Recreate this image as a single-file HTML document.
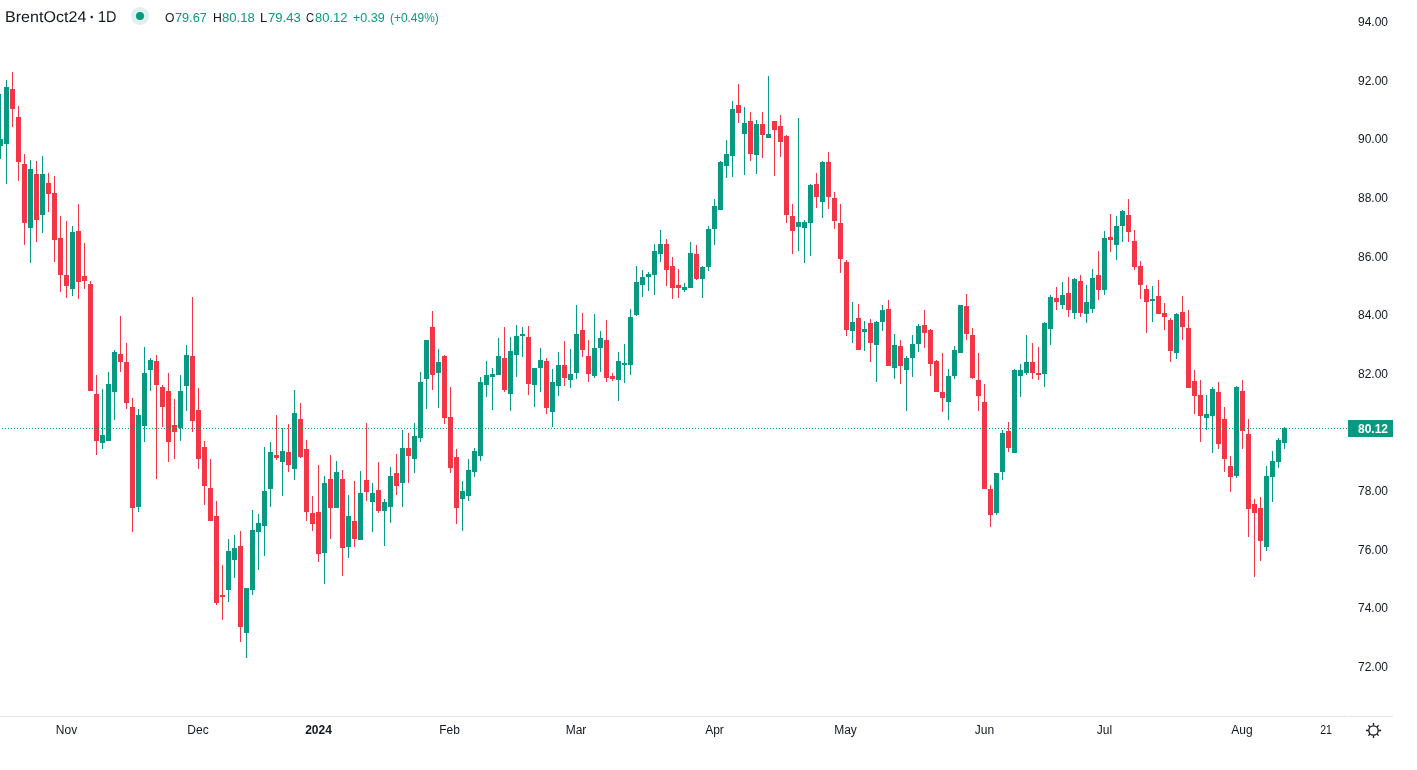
<!DOCTYPE html>
<html lang="en"><head><meta charset="utf-8"><title>BrentOct24 1D</title>
<style>
html,body{margin:0;padding:0;background:#fff;}
body{width:1417px;height:770px;position:relative;overflow:hidden;font-family:"Liberation Sans",sans-serif;color:#131722;}
#chart{position:absolute;left:0;top:0;width:1417px;height:770px;}
.pl{position:absolute;left:1358px;width:30px;height:16px;line-height:16px;font-size:12px;text-align:left;white-space:nowrap;}
.tl{position:absolute;top:722px;width:60px;height:16px;line-height:16px;font-size:12px;text-align:center;white-space:nowrap;}
.tl.b{font-weight:bold;}
.hp{position:absolute;display:block;height:20px;line-height:20px;white-space:nowrap;transform-origin:0 0;}
.g{color:#089981;}
#dot{position:absolute;left:131px;top:7px;width:18px;height:18px;border-radius:50%;background:#ddf2ee;}
#dot i{position:absolute;left:5px;top:5px;width:8px;height:8px;border-radius:50%;background:#089981;}
#last{position:absolute;left:1348px;top:420px;width:45px;height:17px;background:#089981;color:#fff;font-size:12px;font-weight:bold;line-height:17px;}
#last span{position:absolute;left:10px;top:1px;}
#pline{position:absolute;left:0;top:428px;width:1348px;height:1px;background-image:linear-gradient(to right,#089981 0,#089981 1px,transparent 1px,transparent 3px);background-size:3px 1px;background-position:2px 0;background-repeat:repeat-x;}
#axis{position:absolute;left:0;top:716px;width:1348px;height:1px;background:#e0e3eb;}
#axis2{position:absolute;left:1349px;top:716px;width:44px;height:1px;background:#e0e3eb;}
#gear{position:absolute;left:1364px;top:721px;width:19px;height:19px;}
</style></head><body>
<svg id="chart" width="1417" height="770" viewBox="0 0 1417 770" shape-rendering="crispEdges">
<rect x="0" y="94" width="1" height="65" fill="#089981"/>
<rect x="0" y="139" width="3" height="7" fill="#089981"/>
<rect x="6" y="80" width="1" height="104" fill="#089981"/>
<rect x="4" y="87" width="5" height="57" fill="#089981"/>
<rect x="12" y="72" width="1" height="55" fill="#f23645"/>
<rect x="10" y="89" width="5" height="20" fill="#f23645"/>
<rect x="18" y="106" width="1" height="75" fill="#f23645"/>
<rect x="16" y="117" width="5" height="45" fill="#f23645"/>
<rect x="24" y="154" width="1" height="91" fill="#f23645"/>
<rect x="22" y="164" width="5" height="59" fill="#f23645"/>
<rect x="30" y="160" width="1" height="103" fill="#089981"/>
<rect x="28" y="169" width="5" height="59" fill="#089981"/>
<rect x="36" y="161" width="1" height="81" fill="#f23645"/>
<rect x="34" y="174" width="5" height="46" fill="#f23645"/>
<rect x="42" y="156" width="1" height="77" fill="#089981"/>
<rect x="40" y="174" width="5" height="41" fill="#089981"/>
<rect x="48" y="173" width="1" height="39" fill="#f23645"/>
<rect x="46" y="183" width="5" height="11" fill="#f23645"/>
<rect x="54" y="176" width="1" height="86" fill="#f23645"/>
<rect x="52" y="193" width="5" height="47" fill="#f23645"/>
<rect x="60" y="216" width="1" height="76" fill="#f23645"/>
<rect x="58" y="238" width="5" height="37" fill="#f23645"/>
<rect x="66" y="221" width="1" height="77" fill="#f23645"/>
<rect x="64" y="275" width="5" height="11" fill="#f23645"/>
<rect x="72" y="226" width="1" height="70" fill="#089981"/>
<rect x="70" y="232" width="5" height="57" fill="#089981"/>
<rect x="78" y="204" width="1" height="95" fill="#f23645"/>
<rect x="76" y="231" width="5" height="51" fill="#f23645"/>
<rect x="84" y="243" width="1" height="46" fill="#f23645"/>
<rect x="82" y="276" width="5" height="5" fill="#f23645"/>
<rect x="90" y="281" width="1" height="110" fill="#f23645"/>
<rect x="88" y="284" width="5" height="107" fill="#f23645"/>
<rect x="96" y="375" width="1" height="80" fill="#f23645"/>
<rect x="94" y="394" width="5" height="47" fill="#f23645"/>
<rect x="102" y="389" width="1" height="60" fill="#089981"/>
<rect x="100" y="435" width="5" height="8" fill="#089981"/>
<rect x="108" y="372" width="1" height="69" fill="#089981"/>
<rect x="106" y="384" width="5" height="57" fill="#089981"/>
<rect x="114" y="350" width="1" height="70" fill="#089981"/>
<rect x="112" y="352" width="5" height="40" fill="#089981"/>
<rect x="120" y="316" width="1" height="56" fill="#f23645"/>
<rect x="118" y="354" width="5" height="8" fill="#f23645"/>
<rect x="126" y="343" width="1" height="66" fill="#f23645"/>
<rect x="124" y="362" width="5" height="41" fill="#f23645"/>
<rect x="132" y="398" width="1" height="134" fill="#f23645"/>
<rect x="130" y="407" width="5" height="101" fill="#f23645"/>
<rect x="138" y="409" width="1" height="103" fill="#089981"/>
<rect x="136" y="415" width="5" height="92" fill="#089981"/>
<rect x="144" y="347" width="1" height="95" fill="#089981"/>
<rect x="142" y="373" width="5" height="53" fill="#089981"/>
<rect x="150" y="358" width="1" height="33" fill="#089981"/>
<rect x="148" y="360" width="5" height="10" fill="#089981"/>
<rect x="156" y="355" width="1" height="124" fill="#f23645"/>
<rect x="154" y="361" width="5" height="24" fill="#f23645"/>
<rect x="162" y="385" width="1" height="42" fill="#f23645"/>
<rect x="160" y="387" width="5" height="20" fill="#f23645"/>
<rect x="168" y="373" width="1" height="89" fill="#f23645"/>
<rect x="166" y="391" width="5" height="51" fill="#f23645"/>
<rect x="174" y="399" width="1" height="60" fill="#f23645"/>
<rect x="172" y="425" width="5" height="7" fill="#f23645"/>
<rect x="180" y="375" width="1" height="66" fill="#089981"/>
<rect x="178" y="391" width="5" height="37" fill="#089981"/>
<rect x="186" y="345" width="1" height="66" fill="#089981"/>
<rect x="184" y="355" width="5" height="31" fill="#089981"/>
<rect x="192" y="297" width="1" height="135" fill="#f23645"/>
<rect x="190" y="356" width="5" height="65" fill="#f23645"/>
<rect x="198" y="388" width="1" height="81" fill="#f23645"/>
<rect x="196" y="410" width="5" height="49" fill="#f23645"/>
<rect x="204" y="441" width="1" height="64" fill="#f23645"/>
<rect x="202" y="447" width="5" height="39" fill="#f23645"/>
<rect x="210" y="459" width="1" height="62" fill="#f23645"/>
<rect x="208" y="488" width="5" height="33" fill="#f23645"/>
<rect x="216" y="501" width="1" height="104" fill="#f23645"/>
<rect x="214" y="516" width="5" height="87" fill="#f23645"/>
<rect x="222" y="565" width="1" height="55" fill="#f23645"/>
<rect x="220" y="595" width="5" height="2" fill="#f23645"/>
<rect x="228" y="539" width="1" height="63" fill="#089981"/>
<rect x="226" y="551" width="5" height="39" fill="#089981"/>
<rect x="234" y="535" width="1" height="43" fill="#089981"/>
<rect x="232" y="548" width="5" height="12" fill="#089981"/>
<rect x="240" y="531" width="1" height="111" fill="#f23645"/>
<rect x="238" y="546" width="5" height="81" fill="#f23645"/>
<rect x="246" y="588" width="1" height="70" fill="#089981"/>
<rect x="244" y="588" width="5" height="45" fill="#089981"/>
<rect x="252" y="510" width="1" height="85" fill="#089981"/>
<rect x="250" y="530" width="5" height="60" fill="#089981"/>
<rect x="258" y="514" width="1" height="56" fill="#089981"/>
<rect x="256" y="523" width="5" height="9" fill="#089981"/>
<rect x="264" y="447" width="1" height="109" fill="#089981"/>
<rect x="262" y="491" width="5" height="35" fill="#089981"/>
<rect x="270" y="442" width="1" height="65" fill="#089981"/>
<rect x="268" y="452" width="5" height="37" fill="#089981"/>
<rect x="276" y="415" width="1" height="45" fill="#f23645"/>
<rect x="274" y="455" width="5" height="3" fill="#f23645"/>
<rect x="282" y="428" width="1" height="68" fill="#089981"/>
<rect x="280" y="451" width="5" height="11" fill="#089981"/>
<rect x="288" y="424" width="1" height="48" fill="#f23645"/>
<rect x="286" y="452" width="5" height="13" fill="#f23645"/>
<rect x="294" y="390" width="1" height="90" fill="#089981"/>
<rect x="292" y="413" width="5" height="56" fill="#089981"/>
<rect x="300" y="403" width="1" height="55" fill="#f23645"/>
<rect x="298" y="419" width="5" height="38" fill="#f23645"/>
<rect x="306" y="440" width="1" height="81" fill="#f23645"/>
<rect x="304" y="449" width="5" height="63" fill="#f23645"/>
<rect x="312" y="496" width="1" height="35" fill="#f23645"/>
<rect x="310" y="513" width="5" height="11" fill="#f23645"/>
<rect x="318" y="465" width="1" height="97" fill="#f23645"/>
<rect x="316" y="512" width="5" height="42" fill="#f23645"/>
<rect x="324" y="476" width="1" height="108" fill="#089981"/>
<rect x="322" y="483" width="5" height="70" fill="#089981"/>
<rect x="330" y="455" width="1" height="84" fill="#f23645"/>
<rect x="328" y="479" width="5" height="29" fill="#f23645"/>
<rect x="336" y="461" width="1" height="47" fill="#089981"/>
<rect x="334" y="472" width="5" height="36" fill="#089981"/>
<rect x="342" y="470" width="1" height="106" fill="#f23645"/>
<rect x="340" y="479" width="5" height="69" fill="#f23645"/>
<rect x="348" y="495" width="1" height="63" fill="#089981"/>
<rect x="346" y="516" width="5" height="31" fill="#089981"/>
<rect x="354" y="481" width="1" height="66" fill="#f23645"/>
<rect x="352" y="521" width="5" height="18" fill="#f23645"/>
<rect x="360" y="471" width="1" height="69" fill="#089981"/>
<rect x="358" y="493" width="5" height="47" fill="#089981"/>
<rect x="366" y="423" width="1" height="78" fill="#f23645"/>
<rect x="364" y="480" width="5" height="12" fill="#f23645"/>
<rect x="372" y="483" width="1" height="49" fill="#089981"/>
<rect x="370" y="493" width="5" height="9" fill="#089981"/>
<rect x="378" y="462" width="1" height="51" fill="#f23645"/>
<rect x="376" y="490" width="5" height="21" fill="#f23645"/>
<rect x="384" y="499" width="1" height="47" fill="#089981"/>
<rect x="382" y="502" width="5" height="9" fill="#089981"/>
<rect x="390" y="467" width="1" height="56" fill="#089981"/>
<rect x="388" y="476" width="5" height="31" fill="#089981"/>
<rect x="396" y="454" width="1" height="41" fill="#f23645"/>
<rect x="394" y="473" width="5" height="13" fill="#f23645"/>
<rect x="402" y="430" width="1" height="77" fill="#089981"/>
<rect x="400" y="448" width="5" height="35" fill="#089981"/>
<rect x="408" y="433" width="1" height="50" fill="#f23645"/>
<rect x="406" y="448" width="5" height="8" fill="#f23645"/>
<rect x="414" y="423" width="1" height="50" fill="#089981"/>
<rect x="412" y="436" width="5" height="23" fill="#089981"/>
<rect x="420" y="372" width="1" height="70" fill="#089981"/>
<rect x="418" y="382" width="5" height="56" fill="#089981"/>
<rect x="426" y="340" width="1" height="69" fill="#089981"/>
<rect x="424" y="340" width="5" height="39" fill="#089981"/>
<rect x="432" y="311" width="1" height="79" fill="#f23645"/>
<rect x="430" y="327" width="5" height="48" fill="#f23645"/>
<rect x="438" y="349" width="1" height="59" fill="#089981"/>
<rect x="436" y="362" width="5" height="11" fill="#089981"/>
<rect x="444" y="355" width="1" height="69" fill="#f23645"/>
<rect x="442" y="356" width="5" height="62" fill="#f23645"/>
<rect x="450" y="387" width="1" height="86" fill="#f23645"/>
<rect x="448" y="417" width="5" height="51" fill="#f23645"/>
<rect x="456" y="449" width="1" height="75" fill="#f23645"/>
<rect x="454" y="457" width="5" height="51" fill="#f23645"/>
<rect x="462" y="481" width="1" height="50" fill="#089981"/>
<rect x="460" y="491" width="5" height="8" fill="#089981"/>
<rect x="468" y="459" width="1" height="42" fill="#089981"/>
<rect x="466" y="470" width="5" height="26" fill="#089981"/>
<rect x="474" y="448" width="1" height="29" fill="#089981"/>
<rect x="472" y="451" width="5" height="21" fill="#089981"/>
<rect x="480" y="377" width="1" height="84" fill="#089981"/>
<rect x="478" y="382" width="5" height="74" fill="#089981"/>
<rect x="486" y="361" width="1" height="36" fill="#089981"/>
<rect x="484" y="375" width="5" height="10" fill="#089981"/>
<rect x="492" y="368" width="1" height="42" fill="#089981"/>
<rect x="490" y="374" width="5" height="3" fill="#089981"/>
<rect x="498" y="338" width="1" height="37" fill="#089981"/>
<rect x="496" y="356" width="5" height="19" fill="#089981"/>
<rect x="504" y="327" width="1" height="65" fill="#f23645"/>
<rect x="502" y="358" width="5" height="32" fill="#f23645"/>
<rect x="510" y="337" width="1" height="74" fill="#089981"/>
<rect x="508" y="351" width="5" height="43" fill="#089981"/>
<rect x="516" y="325" width="1" height="52" fill="#089981"/>
<rect x="514" y="336" width="5" height="19" fill="#089981"/>
<rect x="522" y="327" width="1" height="30" fill="#089981"/>
<rect x="520" y="334" width="5" height="2" fill="#089981"/>
<rect x="528" y="326" width="1" height="69" fill="#f23645"/>
<rect x="526" y="337" width="5" height="47" fill="#f23645"/>
<rect x="534" y="368" width="1" height="39" fill="#089981"/>
<rect x="532" y="368" width="5" height="17" fill="#089981"/>
<rect x="540" y="348" width="1" height="44" fill="#089981"/>
<rect x="538" y="360" width="5" height="8" fill="#089981"/>
<rect x="546" y="358" width="1" height="56" fill="#f23645"/>
<rect x="544" y="361" width="5" height="47" fill="#f23645"/>
<rect x="552" y="369" width="1" height="58" fill="#089981"/>
<rect x="550" y="382" width="5" height="30" fill="#089981"/>
<rect x="558" y="352" width="1" height="44" fill="#089981"/>
<rect x="556" y="365" width="5" height="21" fill="#089981"/>
<rect x="564" y="341" width="1" height="45" fill="#f23645"/>
<rect x="562" y="365" width="5" height="13" fill="#f23645"/>
<rect x="570" y="349" width="1" height="39" fill="#089981"/>
<rect x="568" y="374" width="5" height="6" fill="#089981"/>
<rect x="576" y="305" width="1" height="74" fill="#089981"/>
<rect x="574" y="334" width="5" height="39" fill="#089981"/>
<rect x="582" y="313" width="1" height="44" fill="#f23645"/>
<rect x="580" y="330" width="5" height="20" fill="#f23645"/>
<rect x="588" y="340" width="1" height="42" fill="#f23645"/>
<rect x="586" y="356" width="5" height="18" fill="#f23645"/>
<rect x="594" y="314" width="1" height="64" fill="#089981"/>
<rect x="592" y="348" width="5" height="28" fill="#089981"/>
<rect x="600" y="331" width="1" height="41" fill="#089981"/>
<rect x="598" y="338" width="5" height="10" fill="#089981"/>
<rect x="606" y="320" width="1" height="62" fill="#f23645"/>
<rect x="604" y="340" width="5" height="38" fill="#f23645"/>
<rect x="612" y="373" width="1" height="8" fill="#f23645"/>
<rect x="610" y="376" width="5" height="3" fill="#f23645"/>
<rect x="618" y="352" width="1" height="49" fill="#089981"/>
<rect x="616" y="361" width="5" height="19" fill="#089981"/>
<rect x="624" y="344" width="1" height="39" fill="#089981"/>
<rect x="622" y="363" width="5" height="2" fill="#089981"/>
<rect x="630" y="309" width="1" height="66" fill="#089981"/>
<rect x="628" y="317" width="5" height="48" fill="#089981"/>
<rect x="636" y="266" width="1" height="50" fill="#089981"/>
<rect x="634" y="282" width="5" height="33" fill="#089981"/>
<rect x="642" y="270" width="1" height="27" fill="#089981"/>
<rect x="640" y="277" width="5" height="8" fill="#089981"/>
<rect x="648" y="272" width="1" height="19" fill="#089981"/>
<rect x="646" y="274" width="5" height="3" fill="#089981"/>
<rect x="654" y="244" width="1" height="51" fill="#089981"/>
<rect x="652" y="251" width="5" height="24" fill="#089981"/>
<rect x="660" y="230" width="1" height="32" fill="#089981"/>
<rect x="658" y="244" width="5" height="10" fill="#089981"/>
<rect x="666" y="239" width="1" height="47" fill="#f23645"/>
<rect x="664" y="244" width="5" height="26" fill="#f23645"/>
<rect x="672" y="257" width="1" height="42" fill="#f23645"/>
<rect x="670" y="266" width="5" height="22" fill="#f23645"/>
<rect x="678" y="269" width="1" height="29" fill="#f23645"/>
<rect x="676" y="285" width="5" height="3" fill="#f23645"/>
<rect x="684" y="283" width="1" height="9" fill="#089981"/>
<rect x="682" y="287" width="5" height="3" fill="#089981"/>
<rect x="690" y="242" width="1" height="46" fill="#089981"/>
<rect x="688" y="253" width="5" height="35" fill="#089981"/>
<rect x="696" y="245" width="1" height="35" fill="#f23645"/>
<rect x="694" y="254" width="5" height="25" fill="#f23645"/>
<rect x="702" y="266" width="1" height="32" fill="#089981"/>
<rect x="700" y="267" width="5" height="12" fill="#089981"/>
<rect x="708" y="226" width="1" height="45" fill="#089981"/>
<rect x="706" y="229" width="5" height="38" fill="#089981"/>
<rect x="714" y="199" width="1" height="46" fill="#089981"/>
<rect x="712" y="206" width="5" height="23" fill="#089981"/>
<rect x="720" y="161" width="1" height="49" fill="#089981"/>
<rect x="718" y="162" width="5" height="48" fill="#089981"/>
<rect x="726" y="140" width="1" height="38" fill="#089981"/>
<rect x="724" y="154" width="5" height="12" fill="#089981"/>
<rect x="732" y="101" width="1" height="76" fill="#089981"/>
<rect x="730" y="109" width="5" height="47" fill="#089981"/>
<rect x="738" y="84" width="1" height="39" fill="#f23645"/>
<rect x="736" y="105" width="5" height="8" fill="#f23645"/>
<rect x="744" y="107" width="1" height="68" fill="#089981"/>
<rect x="742" y="123" width="5" height="11" fill="#089981"/>
<rect x="750" y="112" width="1" height="49" fill="#f23645"/>
<rect x="748" y="121" width="5" height="33" fill="#f23645"/>
<rect x="756" y="120" width="1" height="54" fill="#089981"/>
<rect x="754" y="124" width="5" height="31" fill="#089981"/>
<rect x="762" y="112" width="1" height="46" fill="#f23645"/>
<rect x="760" y="124" width="5" height="11" fill="#f23645"/>
<rect x="768" y="76" width="1" height="62" fill="#089981"/>
<rect x="766" y="134" width="5" height="4" fill="#089981"/>
<rect x="774" y="121" width="1" height="55" fill="#f23645"/>
<rect x="772" y="121" width="5" height="9" fill="#f23645"/>
<rect x="780" y="115" width="1" height="42" fill="#f23645"/>
<rect x="778" y="126" width="5" height="16" fill="#f23645"/>
<rect x="786" y="135" width="1" height="88" fill="#f23645"/>
<rect x="784" y="136" width="5" height="79" fill="#f23645"/>
<rect x="792" y="204" width="1" height="50" fill="#f23645"/>
<rect x="790" y="216" width="5" height="15" fill="#f23645"/>
<rect x="798" y="118" width="1" height="133" fill="#089981"/>
<rect x="796" y="222" width="5" height="5" fill="#089981"/>
<rect x="804" y="220" width="1" height="43" fill="#089981"/>
<rect x="802" y="222" width="5" height="6" fill="#089981"/>
<rect x="810" y="184" width="1" height="72" fill="#089981"/>
<rect x="808" y="185" width="5" height="38" fill="#089981"/>
<rect x="816" y="173" width="1" height="35" fill="#f23645"/>
<rect x="814" y="184" width="5" height="13" fill="#f23645"/>
<rect x="822" y="161" width="1" height="57" fill="#089981"/>
<rect x="820" y="162" width="5" height="40" fill="#089981"/>
<rect x="828" y="152" width="1" height="57" fill="#f23645"/>
<rect x="826" y="162" width="5" height="35" fill="#f23645"/>
<rect x="834" y="192" width="1" height="37" fill="#f23645"/>
<rect x="832" y="198" width="5" height="23" fill="#f23645"/>
<rect x="840" y="204" width="1" height="69" fill="#f23645"/>
<rect x="838" y="223" width="5" height="36" fill="#f23645"/>
<rect x="846" y="260" width="1" height="76" fill="#f23645"/>
<rect x="844" y="262" width="5" height="68" fill="#f23645"/>
<rect x="852" y="302" width="1" height="41" fill="#089981"/>
<rect x="850" y="322" width="5" height="9" fill="#089981"/>
<rect x="858" y="304" width="1" height="46" fill="#f23645"/>
<rect x="856" y="318" width="5" height="32" fill="#f23645"/>
<rect x="864" y="321" width="1" height="30" fill="#089981"/>
<rect x="862" y="329" width="5" height="3" fill="#089981"/>
<rect x="870" y="319" width="1" height="43" fill="#f23645"/>
<rect x="868" y="323" width="5" height="20" fill="#f23645"/>
<rect x="876" y="321" width="1" height="61" fill="#089981"/>
<rect x="874" y="322" width="5" height="23" fill="#089981"/>
<rect x="882" y="305" width="1" height="26" fill="#089981"/>
<rect x="880" y="310" width="5" height="12" fill="#089981"/>
<rect x="888" y="300" width="1" height="66" fill="#f23645"/>
<rect x="886" y="309" width="5" height="57" fill="#f23645"/>
<rect x="894" y="334" width="1" height="45" fill="#089981"/>
<rect x="892" y="345" width="5" height="23" fill="#089981"/>
<rect x="900" y="340" width="1" height="44" fill="#f23645"/>
<rect x="898" y="346" width="5" height="20" fill="#f23645"/>
<rect x="906" y="356" width="1" height="55" fill="#089981"/>
<rect x="904" y="358" width="5" height="12" fill="#089981"/>
<rect x="912" y="335" width="1" height="42" fill="#089981"/>
<rect x="910" y="344" width="5" height="14" fill="#089981"/>
<rect x="918" y="324" width="1" height="28" fill="#089981"/>
<rect x="916" y="326" width="5" height="18" fill="#089981"/>
<rect x="924" y="310" width="1" height="38" fill="#f23645"/>
<rect x="922" y="325" width="5" height="8" fill="#f23645"/>
<rect x="930" y="329" width="1" height="47" fill="#f23645"/>
<rect x="928" y="330" width="5" height="34" fill="#f23645"/>
<rect x="936" y="360" width="1" height="32" fill="#f23645"/>
<rect x="934" y="361" width="5" height="31" fill="#f23645"/>
<rect x="942" y="353" width="1" height="59" fill="#f23645"/>
<rect x="940" y="392" width="5" height="6" fill="#f23645"/>
<rect x="948" y="369" width="1" height="51" fill="#089981"/>
<rect x="946" y="376" width="5" height="26" fill="#089981"/>
<rect x="954" y="346" width="1" height="33" fill="#089981"/>
<rect x="952" y="350" width="5" height="26" fill="#089981"/>
<rect x="960" y="305" width="1" height="48" fill="#089981"/>
<rect x="958" y="305" width="5" height="48" fill="#089981"/>
<rect x="966" y="294" width="1" height="46" fill="#f23645"/>
<rect x="964" y="306" width="5" height="28" fill="#f23645"/>
<rect x="972" y="328" width="1" height="51" fill="#f23645"/>
<rect x="970" y="335" width="5" height="43" fill="#f23645"/>
<rect x="978" y="353" width="1" height="58" fill="#f23645"/>
<rect x="976" y="380" width="5" height="16" fill="#f23645"/>
<rect x="984" y="384" width="1" height="105" fill="#f23645"/>
<rect x="982" y="402" width="5" height="87" fill="#f23645"/>
<rect x="990" y="485" width="1" height="42" fill="#f23645"/>
<rect x="988" y="489" width="5" height="26" fill="#f23645"/>
<rect x="996" y="473" width="1" height="42" fill="#089981"/>
<rect x="994" y="473" width="5" height="40" fill="#089981"/>
<rect x="1002" y="430" width="1" height="50" fill="#089981"/>
<rect x="1000" y="433" width="5" height="39" fill="#089981"/>
<rect x="1008" y="422" width="1" height="30" fill="#f23645"/>
<rect x="1006" y="431" width="5" height="17" fill="#f23645"/>
<rect x="1014" y="369" width="1" height="84" fill="#089981"/>
<rect x="1012" y="370" width="5" height="83" fill="#089981"/>
<rect x="1020" y="364" width="1" height="33" fill="#089981"/>
<rect x="1018" y="370" width="5" height="6" fill="#089981"/>
<rect x="1026" y="335" width="1" height="40" fill="#089981"/>
<rect x="1024" y="362" width="5" height="11" fill="#089981"/>
<rect x="1032" y="343" width="1" height="36" fill="#f23645"/>
<rect x="1030" y="362" width="5" height="11" fill="#f23645"/>
<rect x="1038" y="347" width="1" height="33" fill="#f23645"/>
<rect x="1036" y="373" width="5" height="2" fill="#f23645"/>
<rect x="1044" y="322" width="1" height="65" fill="#089981"/>
<rect x="1042" y="323" width="5" height="51" fill="#089981"/>
<rect x="1050" y="295" width="1" height="50" fill="#089981"/>
<rect x="1048" y="297" width="5" height="32" fill="#089981"/>
<rect x="1056" y="287" width="1" height="23" fill="#f23645"/>
<rect x="1054" y="298" width="5" height="4" fill="#f23645"/>
<rect x="1062" y="282" width="1" height="27" fill="#089981"/>
<rect x="1060" y="295" width="5" height="10" fill="#089981"/>
<rect x="1068" y="277" width="1" height="40" fill="#f23645"/>
<rect x="1066" y="293" width="5" height="17" fill="#f23645"/>
<rect x="1074" y="278" width="1" height="41" fill="#089981"/>
<rect x="1072" y="279" width="5" height="34" fill="#089981"/>
<rect x="1080" y="275" width="1" height="42" fill="#f23645"/>
<rect x="1078" y="281" width="5" height="32" fill="#f23645"/>
<rect x="1086" y="285" width="1" height="38" fill="#089981"/>
<rect x="1084" y="302" width="5" height="12" fill="#089981"/>
<rect x="1092" y="269" width="1" height="44" fill="#089981"/>
<rect x="1090" y="278" width="5" height="31" fill="#089981"/>
<rect x="1098" y="251" width="1" height="49" fill="#f23645"/>
<rect x="1096" y="275" width="5" height="15" fill="#f23645"/>
<rect x="1104" y="231" width="1" height="64" fill="#089981"/>
<rect x="1102" y="238" width="5" height="52" fill="#089981"/>
<rect x="1110" y="214" width="1" height="38" fill="#f23645"/>
<rect x="1108" y="237" width="5" height="3" fill="#f23645"/>
<rect x="1116" y="216" width="1" height="44" fill="#089981"/>
<rect x="1114" y="226" width="5" height="19" fill="#089981"/>
<rect x="1122" y="210" width="1" height="32" fill="#089981"/>
<rect x="1120" y="211" width="5" height="15" fill="#089981"/>
<rect x="1128" y="199" width="1" height="43" fill="#f23645"/>
<rect x="1126" y="215" width="5" height="17" fill="#f23645"/>
<rect x="1134" y="230" width="1" height="40" fill="#f23645"/>
<rect x="1132" y="241" width="5" height="26" fill="#f23645"/>
<rect x="1140" y="261" width="1" height="38" fill="#f23645"/>
<rect x="1138" y="266" width="5" height="19" fill="#f23645"/>
<rect x="1146" y="285" width="1" height="48" fill="#f23645"/>
<rect x="1144" y="289" width="5" height="13" fill="#f23645"/>
<rect x="1152" y="286" width="1" height="36" fill="#089981"/>
<rect x="1150" y="299" width="5" height="2" fill="#089981"/>
<rect x="1158" y="280" width="1" height="34" fill="#f23645"/>
<rect x="1156" y="296" width="5" height="18" fill="#f23645"/>
<rect x="1164" y="303" width="1" height="27" fill="#f23645"/>
<rect x="1162" y="313" width="5" height="4" fill="#f23645"/>
<rect x="1170" y="318" width="1" height="44" fill="#f23645"/>
<rect x="1168" y="320" width="5" height="31" fill="#f23645"/>
<rect x="1176" y="313" width="1" height="46" fill="#089981"/>
<rect x="1174" y="314" width="5" height="39" fill="#089981"/>
<rect x="1182" y="296" width="1" height="44" fill="#f23645"/>
<rect x="1180" y="312" width="5" height="15" fill="#f23645"/>
<rect x="1188" y="310" width="1" height="78" fill="#f23645"/>
<rect x="1186" y="328" width="5" height="60" fill="#f23645"/>
<rect x="1194" y="370" width="1" height="44" fill="#f23645"/>
<rect x="1192" y="381" width="5" height="15" fill="#f23645"/>
<rect x="1200" y="380" width="1" height="62" fill="#f23645"/>
<rect x="1198" y="395" width="5" height="21" fill="#f23645"/>
<rect x="1206" y="395" width="1" height="35" fill="#089981"/>
<rect x="1204" y="414" width="5" height="4" fill="#089981"/>
<rect x="1212" y="387" width="1" height="66" fill="#089981"/>
<rect x="1210" y="389" width="5" height="27" fill="#089981"/>
<rect x="1218" y="382" width="1" height="67" fill="#f23645"/>
<rect x="1216" y="392" width="5" height="52" fill="#f23645"/>
<rect x="1224" y="407" width="1" height="65" fill="#f23645"/>
<rect x="1222" y="419" width="5" height="40" fill="#f23645"/>
<rect x="1230" y="456" width="1" height="36" fill="#f23645"/>
<rect x="1228" y="466" width="5" height="11" fill="#f23645"/>
<rect x="1236" y="386" width="1" height="92" fill="#089981"/>
<rect x="1234" y="387" width="5" height="89" fill="#089981"/>
<rect x="1242" y="380" width="1" height="69" fill="#f23645"/>
<rect x="1240" y="391" width="5" height="40" fill="#f23645"/>
<rect x="1248" y="419" width="1" height="118" fill="#f23645"/>
<rect x="1246" y="434" width="5" height="75" fill="#f23645"/>
<rect x="1254" y="499" width="1" height="78" fill="#f23645"/>
<rect x="1252" y="504" width="5" height="9" fill="#f23645"/>
<rect x="1260" y="497" width="1" height="64" fill="#f23645"/>
<rect x="1258" y="508" width="5" height="33" fill="#f23645"/>
<rect x="1266" y="466" width="1" height="85" fill="#089981"/>
<rect x="1264" y="476" width="5" height="71" fill="#089981"/>
<rect x="1272" y="451" width="1" height="51" fill="#089981"/>
<rect x="1270" y="461" width="5" height="16" fill="#089981"/>
<rect x="1278" y="438" width="1" height="30" fill="#089981"/>
<rect x="1276" y="440" width="5" height="22" fill="#089981"/>
<rect x="1284" y="427" width="1" height="22" fill="#089981"/>
<rect x="1282" y="428" width="5" height="15" fill="#089981"/>
</svg>
<div id="pline"></div>
<div id="axis"></div><div id="axis2"></div>
<div class="pl" style="top:14px">94.00</div>
<div class="pl" style="top:73px">92.00</div>
<div class="pl" style="top:131px">90.00</div>
<div class="pl" style="top:190px">88.00</div>
<div class="pl" style="top:249px">86.00</div>
<div class="pl" style="top:307px">84.00</div>
<div class="pl" style="top:366px">82.00</div>
<div class="pl" style="top:483px">78.00</div>
<div class="pl" style="top:542px">76.00</div>
<div class="pl" style="top:600px">74.00</div>
<div class="pl" style="top:659px">72.00</div>
<div id="last"><span>80.12</span></div>
<div class="tl" style="left:36.5px;">Nov</div>
<div class="tl" style="left:168.0px;">Dec</div>
<div class="tl b" style="left:288.5px;">2024</div>
<div class="tl" style="left:419.5px;">Feb</div>
<div class="tl" style="left:546.0px;">Mar</div>
<div class="tl" style="left:684.5px;">Apr</div>
<div class="tl" style="left:815.5px;">May</div>
<div class="tl" style="left:954.5px;">Jun</div>
<div class="tl" style="left:1074.5px;">Jul</div>
<div class="tl" style="left:1212.0px;">Aug</div>
<div class="tl" style="left:1295.5px;transform:scaleX(0.87);">21</div>
<span class="hp" style="left:4.97px;top:7.9px;font-size:15.5px;text-rendering:geometricPrecision;transform:scaleX(1.0384)">BrentOct24</span>
<span class="hp" style="left:88.33px;top:5.9px;font-size:22px;text-rendering:geometricPrecision;transform:scaleX(1.0161)">·</span>
<span class="hp" style="left:97.97px;top:8.1px;font-size:15.5px;text-rendering:geometricPrecision;transform:scaleX(0.9329)">1D</span>
<span class="hp" style="left:164.79px;top:8px;font-size:13px;transform:scaleX(0.9322)">O</span>
<span class="hp g" style="left:175.14px;top:8px;font-size:13px;transform:scaleX(0.9764)">79.67</span>
<span class="hp" style="left:212.69px;top:8px;font-size:13px;transform:scaleX(0.9383)">H</span>
<span class="hp g" style="left:221.88px;top:8px;font-size:13px;transform:scaleX(1.0053)">80.18</span>
<span class="hp" style="left:259.92px;top:8px;font-size:13px;transform:scaleX(1.0003)">L</span>
<span class="hp g" style="left:268.02px;top:8px;font-size:13px;transform:scaleX(1.0110)">79.43</span>
<span class="hp" style="left:306.10px;top:8px;font-size:13px;transform:scaleX(0.8587)">C</span>
<span class="hp g" style="left:314.69px;top:8px;font-size:13px;transform:scaleX(0.9970)">80.12</span>
<span class="hp g" style="left:353.28px;top:8px;font-size:13px;transform:scaleX(0.9661)">+0.39</span>
<span class="hp g" style="left:389.62px;top:8px;font-size:13px;transform:scaleX(0.9170)">(+0.49%)</span>
<div id="dot"><i></i></div>
<svg id="gear" width="19" height="19" viewBox="0 0 19 19" fill="none" stroke="#131722" stroke-width="1.3">
<circle cx="9.5" cy="9.5" r="4.7"/>
<path d="M9.5 2v2.4M9.5 14.6V17M2 9.5h2.4M14.6 9.5H17M4.4 4.4l1.6 1.6M13 13l1.6 1.6M4.4 14.6l1.6-1.6M13 6l1.6-1.6"/>
</svg>
</body></html>
